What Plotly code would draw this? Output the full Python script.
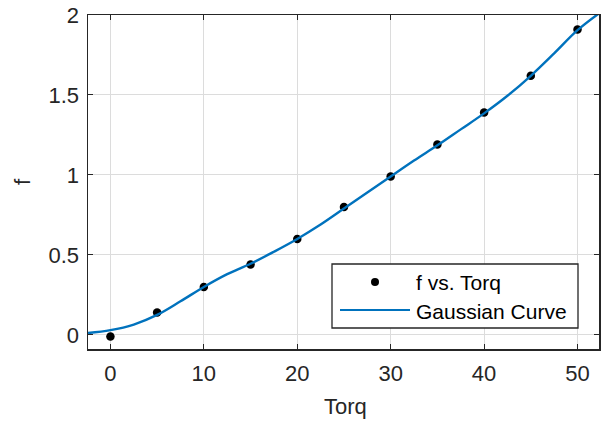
import plotly.graph_objects as go

# Data points (f vs. Torq)
torq = [0, 5, 10, 15, 20, 25, 30, 35, 40, 45, 50]
f_vals = [-0.01, 0.14, 0.30, 0.44, 0.60, 0.80, 0.99, 1.19, 1.39, 1.62, 1.91]

# Fitted Gaussian curve
curve_x = [-2.4, 0, 2.5, 5, 7.5, 10, 12.5, 15, 17.5, 20, 22.5, 25, 27.5, 30,
           32.5, 35, 37.5, 40, 42.5, 45, 47.5, 50, 52.3]
curve_y = [0.012, 0.03, 0.065, 0.125, 0.21, 0.30, 0.38, 0.445, 0.52, 0.60, 0.69,
           0.79, 0.89, 0.99, 1.09, 1.185, 1.285, 1.385, 1.495, 1.62, 1.76, 1.905, 2.01]

x_ticks = [0, 10, 20, 30, 40, 50]
y_ticks = [0, 0.5, 1, 1.5, 2]
y_tick_text = ["0", "0.5", "1", "1.5", "2"]
legend_labels = ["f vs. Torq", "Gaussian Curve"]
x_title = "Torq"
y_title = "f"

FONT = "Liberation Sans, Arial, Helvetica, sans-serif"
TXT = "#262626"
BLUE = "#0072BD"
FS = 22

W, H = 604, 421
ML, MR, MT, MB = 88, 5, 15, 72
PW, PH = W - ML - MR, H - MT - MB


def px(xw):
    """window x pixel -> paper coordinate"""
    return (xw - ML) / PW


def py(yw):
    """window y pixel -> paper coordinate"""
    return (H - MB - yw) / PH


fig = go.Figure()
fig.add_trace(go.Scatter(
    x=torq, y=f_vals, mode="markers", name=legend_labels[0], showlegend=False,
    marker=dict(color="black", size=8.5, symbol="circle"),
))
fig.add_trace(go.Scatter(
    x=curve_x, y=curve_y, mode="lines", name=legend_labels[1], showlegend=False,
    line=dict(color=BLUE, width=2.4, shape="spline"),
))

axis_common = dict(
    showline=True, linecolor="#262626", linewidth=1.5, mirror="ticks",
    ticks="inside", ticklen=5, tickcolor="#262626", tickwidth=1,
    showgrid=True, gridcolor="#dcdcdc", gridwidth=1, zeroline=False,
    tickfont=dict(family=FONT, size=FS, color=TXT), automargin=False,
    ticklabeloverflow="allow",
)

fig.update_xaxes(range=[-2.4, 52.3], tickvals=x_ticks, ticklabelstandoff=4,
                 **axis_common)
fig.update_yaxes(range=[-0.088, 2.0], tickvals=y_ticks, ticktext=y_tick_text,
                 ticklabelstandoff=3,
                 title=dict(text=y_title, font=dict(family=FONT, size=FS, color=TXT), standoff=12),
                 **axis_common)

# Manual legend box (MATLAB style)
shapes = [
    dict(type="rect", xref="paper", yref="paper",
         x0=px(332), x1=px(578), y0=py(328), y1=py(264),
         line=dict(color="#262626", width=1.3), fillcolor="white", layer="above"),
    dict(type="line", xref="paper", yref="paper",
         x0=px(340), x1=px(410), y0=py(310), y1=py(310),
         line=dict(color=BLUE, width=2.2), layer="above"),
    dict(type="circle", xref="paper", yref="paper",
         x0=px(371), x1=px(379), y0=py(286), y1=py(278),
         line=dict(color="black", width=0), fillcolor="black", layer="above"),
]
annotations = [
    dict(text=legend_labels[0], xref="paper", yref="paper", x=px(414), y=py(282),
         xanchor="left", yanchor="middle", showarrow=False,
         font=dict(family=FONT, size=FS - 1, color="black")),
    dict(text=legend_labels[1], xref="paper", yref="paper", x=px(414), y=py(311),
         xanchor="left", yanchor="middle", showarrow=False,
         font=dict(family=FONT, size=FS - 1, color="black")),
    dict(text=x_title, xref="paper", yref="paper", x=px(345), y=py(406),
         xanchor="center", yanchor="middle", showarrow=False,
         font=dict(family=FONT, size=FS, color=TXT)),
]

fig.update_layout(
    width=W, height=H,
    margin=dict(l=ML, r=MR, t=MT, b=MB),
    plot_bgcolor="white", paper_bgcolor="white",
    font=dict(family=FONT, size=FS, color=TXT),
    showlegend=False, hovermode=False,
    shapes=shapes, annotations=annotations,
)

# remove the default 8px page margin so the figure fills the window exactly
fig.write_html("out.html",
               config={"displayModeBar": False, "staticPlot": True},
               post_script="document.body.style.margin='0';document.body.style.overflow='hidden';")
